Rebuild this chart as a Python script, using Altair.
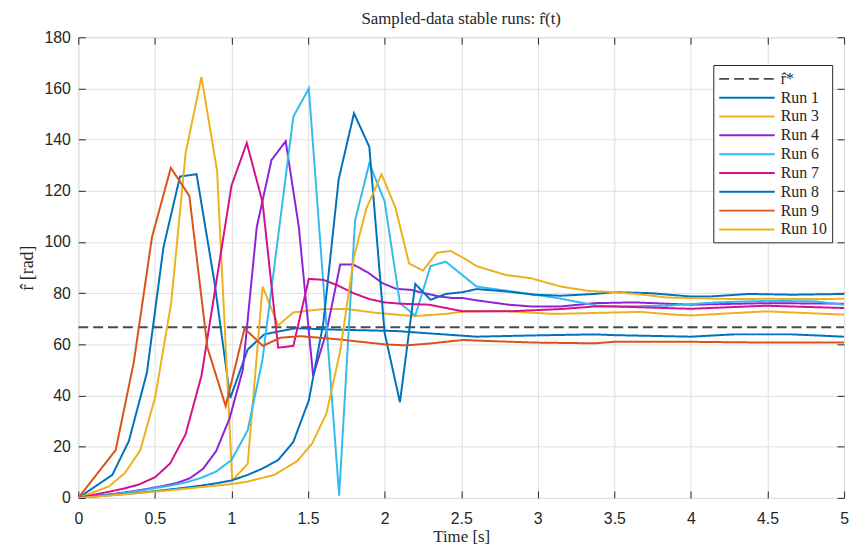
import altair as alt
import pandas as pd

# ---------------- data ----------------
r_star = 66.7
ref_t = [0, 5]

run1_t = [0, 0.222, 0.33, 0.448, 0.556, 0.664, 0.772, 0.89, 0.992, 1.106, 1.214, 1.32, 1.42, 1.645, 2.08, 2.29, 2.6, 2.98, 3.37, 3.5, 4.0, 4.28, 4.66, 5.0]
run1_v = [0, 9.0, 22.2, 49, 98, 125.6, 126.5, 83.9, 39, 58, 63.9, 65.2, 66.3, 65.8, 65.2, 64.3, 63.0, 63.5, 63.9, 63.6, 63.0, 63.9, 63.9, 63.0]

run3_t = [0, 0.2, 0.304, 0.405, 0.502, 0.606, 0.701, 0.804, 0.906, 1.005, 1.106, 1.203, 1.305, 1.404, 1.602, 1.753, 1.947, 2.12, 2.2, 2.4, 2.51, 2.79, 2.98, 3.11, 3.67, 3.89, 4.0, 4.49, 5.0]
run3_v = [0, 4.5, 9.7, 18.7, 39.4, 76.1, 134.9, 164.5, 127.8, 6.8, 13.3, 82.6, 67.4, 72.5, 73.8, 73.8, 72.3, 71.4, 71.1, 71.9, 72.8, 73.0, 72.3, 71.9, 72.7, 71.6, 71.3, 72.9, 71.6]

run4_t = [0, 0.2, 0.4, 0.55, 0.642, 0.729, 0.815, 0.90, 0.987, 1.074, 1.165, 1.261, 1.354, 1.44, 1.533, 1.62, 1.71, 1.796, 1.893, 1.986, 2.076, 2.17, 2.26, 2.357, 2.443, 2.51, 2.6, 2.81, 2.96, 3.15, 3.37, 3.63, 4.0, 4.49, 5.0]
run4_v = [0, 1.3, 3.0, 4.6, 5.8, 7.7, 11.4, 18.3, 31, 50, 105.8, 132, 139.4, 105.8, 47.7, 64.8, 91.2, 91.2, 88, 83.9, 81.7, 81.3, 80, 78.7, 78.1, 78.1, 77.2, 75.5, 74.8, 74.8, 76.1, 76.4, 75.5, 76.1, 75.9]

run6_t = [0, 0.2, 0.4, 0.6, 0.7, 0.8, 0.9, 1.0, 1.106, 1.203, 1.3, 1.404, 1.505, 1.703, 1.807, 1.9, 2.0, 2.1, 2.2, 2.3, 2.4, 2.6, 2.98, 3.13, 3.24, 3.39, 3.52, 3.84, 4.17, 4.49, 4.81, 5.0]
run6_v = [0, 1.2, 2.8, 4.8, 6.0, 7.8, 10.3, 14.8, 26.4, 54.2, 100, 149, 160, 0.9, 108.4, 130.7, 115.9, 76.1, 71.2, 90.6, 92.3, 82.6, 79.4, 78.1, 76.8, 75.1, 74.8, 75.1, 76.4, 77.0, 76.8, 75.5]

run7_t = [0, 0.1, 0.2, 0.3, 0.394, 0.502, 0.6, 0.7, 0.804, 0.9, 1.0, 1.1, 1.203, 1.305, 1.404, 1.505, 1.6, 1.688, 1.796, 1.9, 2.0, 2.1, 2.29, 2.4, 2.51, 2.81, 3.15, 3.37, 3.5, 4.0, 4.49, 5.0]
run7_v = [0, 1.2, 2.4, 3.7, 5.2, 8.1, 13.5, 24.8, 47.7, 84, 122, 138.7, 115.5, 58.7, 59.4, 85.6, 85.2, 83.2, 80, 77.7, 76.4, 75.9, 75.5, 74.2, 72.9, 72.9, 73.8, 74.8, 74.8, 73.9, 75.1, 74.2]

run8_t = [0, 0.2, 0.4, 0.6, 0.8, 0.9, 1.0, 1.106, 1.2, 1.305, 1.404, 1.505, 1.6, 1.7, 1.8, 1.9, 2.0, 2.1, 2.2, 2.3, 2.4, 2.51, 2.6, 2.81, 2.98, 3.15, 3.37, 3.5, 3.74, 4.0, 4.12, 4.38, 4.66, 5.0]
run8_v = [0, 1.0, 2.0, 3.3, 4.8, 5.7, 6.8, 9.0, 11.4, 14.8, 21.9, 38.1, 68.4, 124.5, 150.3, 137.2, 64.5, 37.4, 83.6, 77.4, 79.7, 80.4, 81.6, 80.6, 79.4, 79.0, 79.7, 80.4, 80.0, 78.7, 78.7, 79.7, 79.4, 79.7]

run9_t = [0, 0.244, 0.362, 0.481, 0.604, 0.725, 0.843, 0.962, 1.085, 1.205, 1.32, 1.45, 1.71, 1.796, 2.0, 2.14, 2.29, 2.51, 2.68, 2.98, 3.37, 3.5, 4.0, 4.49, 5.0]
run9_v = [0, 18.7, 53, 101.9, 129, 118, 58.7, 35.9, 66.2, 59.4, 62.6, 63.2, 61.9, 61.3, 60, 59.6, 60.3, 61.7, 61.3, 60.7, 60.4, 61.0, 61.0, 60.7, 60.7]

run10_t = [0, 0.2, 0.4, 0.6, 0.8, 1.0, 1.106, 1.28, 1.43, 1.527, 1.62, 1.71, 1.8, 1.88, 1.98, 2.07, 2.16, 2.25, 2.34, 2.43, 2.52, 2.6, 2.79, 2.96, 3.07, 3.15, 3.33, 3.5, 3.69, 3.84, 4.0, 4.28, 4.49, 4.77, 5.0]
run10_v = [0, 0.9, 1.9, 3.0, 4.2, 5.4, 6.4, 9.0, 14.4, 21.3, 33, 57.4, 94.2, 113, 126.5, 113.5, 91.6, 88.8, 95.8, 96.5, 93.6, 90.6, 87.1, 85.8, 83.9, 82.6, 80.9, 80.4, 79.4, 78.3, 78.1, 77.7, 77.8, 77.7, 77.8]

series_names = ["r\u0302*", "Run 1", "Run 3", "Run 4", "Run 6", "Run 7", "Run 8", "Run 9", "Run 10"]
series_colors = ["#4a4a4a", "#0072BD", "#EDB120", "#8C22D9", "#33BBEE", "#D6108C", "#0072BD", "#D95319", "#EDB120"]
series_dashes = [[10, 5]] + [[1, 0]] * 8

x_ticks = [0, 0.5, 1, 1.5, 2, 2.5, 3, 3.5, 4, 4.5, 5]
y_ticks = [0, 20, 40, 60, 80, 100, 120, 140, 160, 180]

series_data = [
    (series_names[0], ref_t, [r_star, r_star]),
    ("Run 1", run1_t, run1_v),
    ("Run 3", run3_t, run3_v),
    ("Run 4", run4_t, run4_v),
    ("Run 6", run6_t, run6_v),
    ("Run 7", run7_t, run7_v),
    ("Run 8", run8_t, run8_v),
    ("Run 9", run9_t, run9_v),
    ("Run 10", run10_t, run10_v),
]

rows = []
for name, ts, vs in series_data:
    for t, v in zip(ts, vs):
        rows.append({"series": name, "t": t, "v": v})
df = pd.DataFrame(rows)

# ---------------- styling ----------------
AX = "#262626"
GRID = "#DFDFDF"
SANS = "Liberation Sans"
SERIF = "Liberation Serif"
TICK = 7

x_scale = alt.Scale(domain=[0, 5], nice=False, zero=False)
y_scale = alt.Scale(domain=[0, 180], nice=False)

color_scale = alt.Scale(domain=series_names, range=series_colors)
dash_scale = alt.Scale(domain=series_names, range=series_dashes)

legend = alt.Legend(
    title=None, orient="none", legendX=641, legendY=28,
    symbolType="M-1,0H6", symbolSize=256, symbolStrokeWidth=2,
    labelFont=SERIF, labelFontSize=16, labelColor=AX, labelOffset=45,
    fillColor="white", strokeColor=AX, padding=5, rowPadding=2,
    cornerRadius=0, labelLimit=200,
)

lines = alt.Chart(df).mark_line(strokeWidth=2, clip=True).encode(
    x=alt.X("t:Q", scale=x_scale,
            axis=alt.Axis(orient="bottom", values=x_ticks, title="Time [s]", format="~g",
                          offset=-TICK, tickSize=TICK, domain=False, grid=True,
                          gridColor=GRID, tickColor=AX, labelColor=AX,
                          labelFont=SANS, labelFontSize=16, labelPadding=13,
                          titleFont=SERIF, titleFontSize=17, titleFontWeight="normal",
                          titleColor=AX, titlePadding=2, labelFlush=False)),
    y=alt.Y("v:Q", scale=y_scale,
            axis=alt.Axis(orient="left", values=y_ticks, title="r\u0302 [rad]",
                          offset=-TICK, tickSize=TICK, domain=False, grid=True,
                          gridColor=GRID, tickColor=AX, labelColor=AX,
                          labelFont=SANS, labelFontSize=16, labelPadding=8,
                          titleFont=SERIF, titleFontSize=18, titleFontWeight="normal",
                          titleColor=AX, titlePadding=8, labelFlush=False)),
    color=alt.Color("series:N", scale=color_scale, legend=legend, sort=series_names),
    strokeDash=alt.StrokeDash("series:N", scale=dash_scale, legend=legend, sort=series_names),
    detail="series:N",
)

frame_ticks = alt.Chart(df).mark_line(opacity=0).encode(
    x=alt.X("t:Q", scale=x_scale,
            axis=alt.Axis(orient="top", values=x_ticks, title=None, labels=False,
                          offset=-TICK, tickSize=TICK, domain=False, grid=False,
                          tickColor=AX)),
    y=alt.Y("v:Q", scale=y_scale,
            axis=alt.Axis(orient="right", values=y_ticks, title=None, labels=False,
                          offset=-TICK, tickSize=TICK, domain=False, grid=False,
                          tickColor=AX)),
    detail="series:N",
)

chart = alt.layer(frame_ticks, lines).resolve_axis(
    x="independent", y="independent"
).properties(
    width=773, height=465,
    title=alt.TitleParams("Sampled-data stable runs: r\u0302(t)", font=SERIF,
                          fontSize=17, fontWeight="normal", color=AX,
                          anchor="middle", offset=1),
    autosize=alt.AutoSizeParams(type="none"),
    padding={"left": 71, "top": 27, "right": 6, "bottom": 46},
).configure_view(stroke=AX, strokeWidth=1).configure(background="white")

chart.save("out.html", embed_options={"renderer": "svg", "actions": False})
